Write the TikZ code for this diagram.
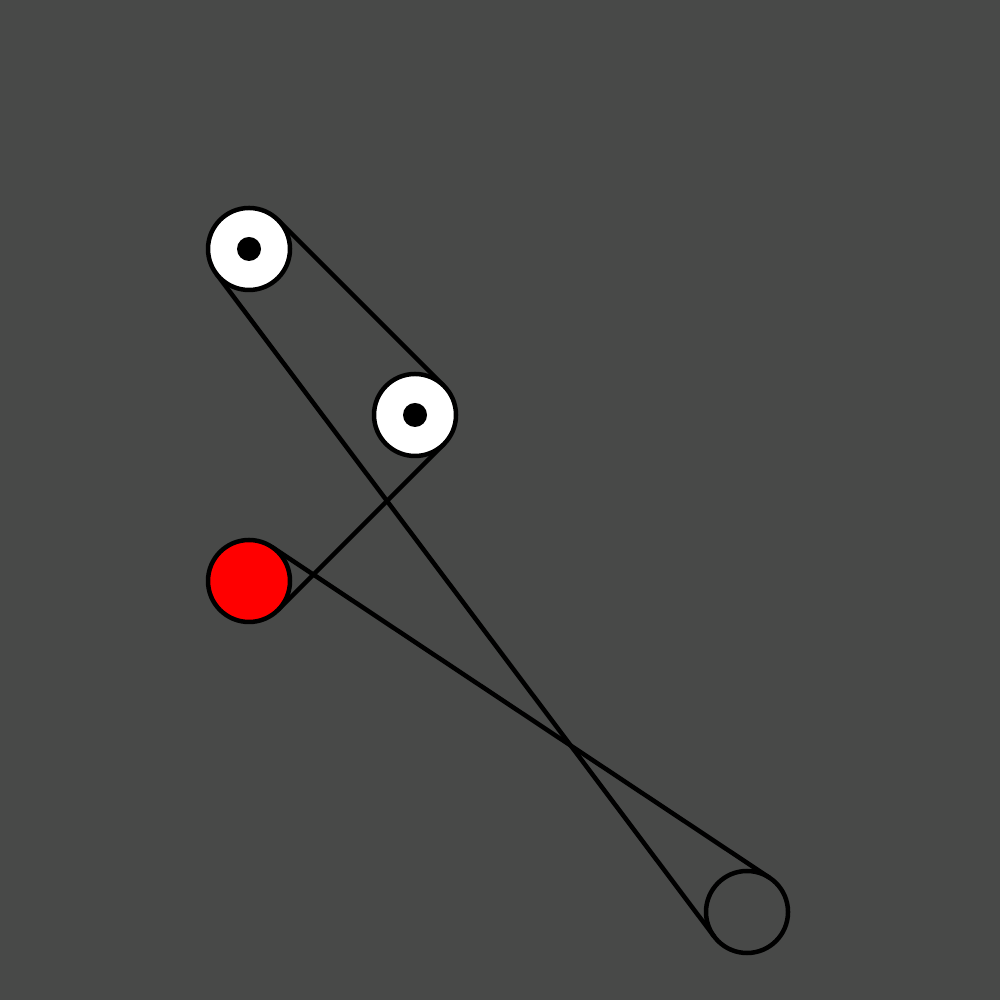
\documentclass[tikz,border=0pt]{standalone}
\usetikzlibrary{calc}
\definecolor{bg}{RGB}{72,73,72}
\begin{document}
\begin{tikzpicture}[
  lw/.style={line width=0.045cm},
  pulley/.style={circle, draw=black, lw, minimum size=0.82cm, inner sep=0pt},
  hub/.style={circle, fill=black, minimum size=0.24cm, inner sep=0pt},
  belt/.style={draw=black, lw}
]
\fill[bg] (0,0) rectangle (10,10);
\useasboundingbox (0,0) rectangle (10,10);
\def\r{0.41cm}
\coordinate (A) at (2.49,7.51);
\coordinate (B) at (4.15,5.85);
\coordinate (C) at (2.49,4.19);
\coordinate (D) at (7.47,0.88);
% belt segments
\coordinate (A1) at ($(A)!\r!90:(B)$);
\coordinate (B1) at ($(B)!\r!-90:(A)$);
\coordinate (B2) at ($(B)!\r!90:(C)$);
\coordinate (C2) at ($(C)!\r!-90:(B)$);
\coordinate (C3) at ($(C)!\r!90:(D)$);
\coordinate (D3) at ($(D)!\r!-90:(C)$);
\coordinate (D4) at ($(D)!\r!90:(A)$);
\coordinate (A4) at ($(A)!\r!-90:(D)$);
\draw[belt] (A1) -- (B1);
\draw[belt] (B2) -- (C2);
\draw[belt] (C3) -- (D3);
\draw[belt] (D4) -- (A4);
% pulleys
\node[pulley, fill=white] (pA) at (A) {};
\node[hub] (hA) at (A) {};
\node[pulley, fill=white] (pB) at (B) {};
\node[hub] (hB) at (B) {};
\node[pulley, fill=red] (pC) at (C) {};
\node[pulley] (pD) at (D) {};
\end{tikzpicture}
\end{document}
